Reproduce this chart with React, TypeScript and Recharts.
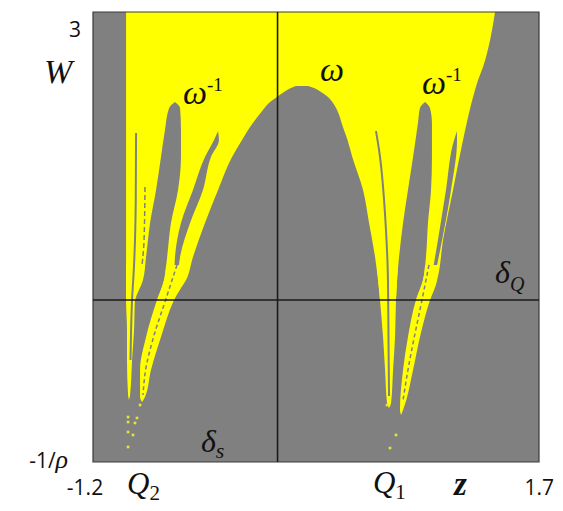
import React from 'react';
import {
  ComposedChart,
  Area,
  Line,
  Scatter,
  XAxis,
  YAxis,
  ReferenceLine,
  ReferenceDot,
  ReferenceArea,
} from 'recharts';

// axis ranges (z horizontal, W vertical; bottom of W is -1/rho)
const Z_DOMAIN: [number, number] = [-1.2, 1.7];
const W_DOMAIN: [number, number] = [-1.6875, 3];
const Z_TICK_LABELS = ['-1.2', '1.7'];
const W_TICK_LABELS = ['3', '-1/ρ'];

// rows: [W, z_left, z_right]
type Row = [number, number, number];

const plotRows: Row[] = [
  [3, -1.2, 1.7],
  [-1.6875, -1.2, 1.7],
];

const yellowMainRows: Row[] = [
  [3, -0.985, 1.414],
  [2.708, -0.985, 1.382],
  [2.427, -0.985, 1.336],
  [2.292, -0.985, 1.304],
  [2.188, -0.985, 1.284],
  [1.667, -0.985, 1.206],
  [1.146, -0.985, 1.141],
  [0.625, -0.985, 1.076],
  [0.208, -0.985, 1.037],
  [0.0, -0.985, 0.991],
];

const humpRows: Row[] = [
  [2.229, 0.12, 0.198],
  [2.208, 0.087, 0.237],
  [2.167, 0.042, 0.283],
  [2.115, -0.004, 0.328],
  [2.052, -0.056, 0.361],
  [1.979, -0.095, 0.387],
  [1.802, -0.179, 0.425],
  [1.667, -0.231, 0.455],
  [1.49, -0.296, 0.486],
  [1.146, -0.387, 0.556],
  [0.802, -0.472, 0.595],
  [0.448, -0.55, 0.634],
  [0.208, -0.595, 0.653],
  [0.0, -0.686, 0.666],
  [-0.104, -0.712, 0.673],
];

const leftFingerRows: Row[] = [
  [2.063, -0.667, -0.667],
  [2.0, -0.705, -0.634],
  [1.771, -0.732, -0.628],
  [1.49, -0.758, -0.628],
  [1.146, -0.79, -0.647],
  [0.802, -0.829, -0.693],
  [0.448, -0.855, -0.718],
  [0.208, -0.875, -0.738],
  [0.0, -0.927, -0.784],
  [-0.104, -0.94, -0.816],
];

const leftFinger2Rows: Row[] = [
  [1.76, -0.387, -0.387],
  [1.667, -0.413, -0.381],
  [1.49, -0.472, -0.433],
  [1.146, -0.55, -0.485],
  [0.802, -0.628, -0.569],
  [0.448, -0.667, -0.634],
  [0.208, -0.673, -0.647],
];

const rightFingerRows: Row[] = [
  [2.063, 0.959, 0.959],
  [2.0, 0.926, 0.991],
  [1.844, 0.913, 1.004],
  [1.49, 0.881, 1.004],
  [1.146, 0.848, 0.998],
  [0.802, 0.816, 0.978],
  [0.448, 0.79, 0.965],
  [0.208, 0.777, 0.946],
  [0.0, 0.77, 0.9],
  [-0.104, 0.764, 0.881],
];

const rightFinger2Rows: Row[] = [
  [1.76, 1.167, 1.167],
  [1.667, 1.148, 1.167],
  [1.146, 1.095, 1.128],
  [0.625, 1.043, 1.07],
  [0.208, 0.998, 1.017],
];

const stripL1Rows: Row[] = [
  [0.365, -0.985, -0.894],
  [0.0, -0.985, -0.927],
  [-0.3125, -0.979, -0.933],
  [-0.625, -0.979, -0.946],
  [-0.99, -0.972, -0.959],
  [-1.042, -0.966, -0.966],
];

const stripL2Rows: Row[] = [
  [0.365, -0.725, -0.582],
  [0.208, -0.738, -0.602],
  [0.0, -0.784, -0.673],
  [-0.385, -0.855, -0.758],
  [-0.729, -0.894, -0.823],
  [-1.01, -0.894, -0.862],
  [-1.063, -0.881, -0.881],
];

const stripR1Rows: Row[] = [
  [0.365, 0.647, 0.783],
  [0.0, 0.666, 0.77],
  [-0.385, 0.686, 0.764],
  [-0.729, 0.699, 0.751],
  [-1.073, 0.712, 0.738],
  [-1.125, 0.725, 0.725],
];

const stripR2Rows: Row[] = [
  [0.365, 0.959, 1.043],
  [0.208, 0.946, 1.037],
  [0.0, 0.9, 0.991],
  [-0.385, 0.848, 0.926],
  [-0.729, 0.816, 0.881],
  [-1.146, 0.796, 0.816],
  [-1.198, 0.803, 0.803],
];

// thin gray seams: [W, z]
type Pt = [number, number];
const seamLeftWall: Pt[] = [
  [1.74, -0.92],
  [1.042, -0.922],
  [0.365, -0.933],
  [0.0, -0.946],
  [-0.625, -0.956],
];
const seamLeftDashed: Pt[] = [
  [1.177, -0.862],
  [0.625, -0.868],
  [0.365, -0.881],
];
const seamMiddle: Pt[] = [
  [1.76, 0.64],
  [1.5625, 0.66],
  [0.729, 0.705],
  [0.208, 0.718],
  [-0.521, 0.722],
  [-1.0, 0.725],
];
const seamL2: Pt[] = [
  [0.365, -0.654],
  [0.0, -0.728],
  [-0.385, -0.806],
  [-0.729, -0.858],
  [-0.99, -0.875],
];
const seamR2: Pt[] = [
  [0.365, 0.985],
  [0.0, 0.939],
  [-0.729, 0.848],
  [-1.042, 0.816],
];

// isolated yellow points near the cusps: [z, W]
const cuspDots: Pt[] = [
  [-0.972, -1.219],
  [-0.972, -1.271],
  [-0.972, -1.375],
  [-0.972, -1.531],
  [-0.914, -1.229],
  [-0.927, -1.281],
  [-0.94, -1.406],
  [-0.894, -1.094],
  [0.712, -1.094],
  [0.77, -1.406],
  [0.731, -1.542],
];

const toBand = (rows: Row[]) => rows.map(([w, lo, hi]) => ({ w, r: [lo, hi] }));
const toPath = (pts: Pt[]) => pts.map(([w, z]) => ({ w, z }));
const toDots = (pts: Pt[]) => pts.map(([z, w]) => ({ z, w }));

const GRAY = '#808080';
const YELLOW = '#ffff00';
const SERIF = '"Liberation Serif", "Times New Roman", serif';
const SANS = '"Open Sans", "Liberation Sans", sans-serif';

type Lab = {
  z: number;
  w: number;
  anchor: 'start' | 'middle' | 'end';
  render: () => React.ReactNode;
};

const labels: Lab[] = [
  {
    z: -1.278, w: 2.74, anchor: 'end',
    render: () => <tspan fontFamily={SANS} fontSize={21}>{W_TICK_LABELS[0]}</tspan>,
  },
  {
    z: -1.519, w: 2.26, anchor: 'start',
    render: () => <tspan fontFamily={SERIF} fontStyle="italic" fontSize={34}>W</tspan>,
  },
  {
    z: -1.362, w: -1.75, anchor: 'end',
    render: () => (
      <>
        <tspan fontFamily={SANS} fontSize={21}>-1/</tspan>
        <tspan fontFamily={SERIF} fontStyle="italic" fontSize={26}>ρ</tspan>
      </>
    ),
  },
  {
    z: -1.252, w: -2.031, anchor: 'middle',
    render: () => <tspan fontFamily={SANS} fontSize={21}>{Z_TICK_LABELS[0]}</tspan>,
  },
  {
    z: 1.702, w: -2.031, anchor: 'middle',
    render: () => <tspan fontFamily={SANS} fontSize={21}>{Z_TICK_LABELS[1]}</tspan>,
  },
  {
    z: -0.979, w: -2.021, anchor: 'start',
    render: () => (
      <>
        <tspan fontFamily={SERIF} fontStyle="italic" fontSize={31}>Q</tspan>
        <tspan fontFamily={SERIF} fontSize={21} dy={6}>2</tspan>
      </>
    ),
  },
  {
    z: 0.62, w: -2.01, anchor: 'start',
    render: () => (
      <>
        <tspan fontFamily={SERIF} fontStyle="italic" fontSize={31}>Q</tspan>
        <tspan fontFamily={SERIF} fontSize={21} dy={6}>1</tspan>
      </>
    ),
  },
  {
    z: 1.148, w: -2.031, anchor: 'start',
    render: () => <tspan fontFamily={SERIF} fontStyle="italic" fontWeight="bold" fontSize={33}>z</tspan>,
  },
  {
    z: -0.615, w: 2.042, anchor: 'start',
    render: () => (
      <>
        <tspan fontFamily={SERIF} fontStyle="italic" fontSize={34}>ω</tspan>
        <tspan fontFamily={SERIF} fontSize={19} dy={-13}>-1</tspan>
      </>
    ),
  },
  {
    z: 0.276, w: 2.281, anchor: 'start',
    render: () => <tspan fontFamily={SERIF} fontStyle="italic" fontSize={34}>ω</tspan>,
  },
  {
    z: 0.939, w: 2.146, anchor: 'start',
    render: () => (
      <>
        <tspan fontFamily={SERIF} fontStyle="italic" fontSize={34}>ω</tspan>
        <tspan fontFamily={SERIF} fontSize={19} dy={-13}>-1</tspan>
      </>
    ),
  },
  {
    z: 1.414, w: 0.177, anchor: 'start',
    render: () => (
      <>
        <tspan fontFamily={SERIF} fontStyle="italic" fontSize={32}>δ</tspan>
        <tspan fontFamily={SERIF} fontStyle="italic" fontSize={20} dy={8}>Q</tspan>
      </>
    ),
  },
  {
    z: -0.498, w: -1.583, anchor: 'start',
    render: () => (
      <>
        <tspan fontFamily={SERIF} fontStyle="italic" fontSize={32}>δ</tspan>
        <tspan fontFamily={SERIF} fontStyle="italic" fontSize={22} dy={6}>s</tspan>
      </>
    ),
  },
];

const grayBands = [humpRows, leftFingerRows, leftFinger2Rows, rightFingerRows, rightFinger2Rows];
const yellowStrips = [stripL1Rows, stripL2Rows, stripR1Rows, stripR2Rows];

export default function App() {
  return (
    <ComposedChart
      layout="vertical"
      width={555}
      height={503}
      margin={{ top: 4, right: 24, bottom: 49, left: 85 }}
      style={{ background: '#fff' }}
    >
      <XAxis type="number" dataKey="z" domain={Z_DOMAIN} hide allowDataOverflow />
      <YAxis type="number" dataKey="w" domain={W_DOMAIN} hide allowDataOverflow reversed />

      <Area
        data={toBand(plotRows)}
        dataKey="r"
        type="linear"
        fill={GRAY}
        fillOpacity={1}
        stroke="none"
        isAnimationActive={false}
      />
      <Area
        data={toBand(yellowMainRows)}
        dataKey="r"
        type="monotone"
        fill={YELLOW}
        fillOpacity={1}
        stroke="none"
        isAnimationActive={false}
      />
      {grayBands.map((rows, i) => (
        <Area
          key={'g' + i}
          data={toBand(rows)}
          dataKey="r"
          type="monotone"
          fill={GRAY}
          fillOpacity={1}
          stroke="none"
          isAnimationActive={false}
        />
      ))}
      {yellowStrips.map((rows, i) => (
        <Area
          key={'y' + i}
          data={toBand(rows)}
          dataKey="r"
          type="monotone"
          fill={YELLOW}
          fillOpacity={1}
          stroke="none"
          isAnimationActive={false}
        />
      ))}
      <Line data={toPath(seamLeftWall)} dataKey="z" type="monotone" stroke={GRAY} strokeWidth={2} dot={false} isAnimationActive={false} />
      <Line data={toPath(seamLeftDashed)} dataKey="z" type="monotone" stroke={GRAY} strokeWidth={1.5} strokeDasharray="5 3" dot={false} isAnimationActive={false} />
      <Line data={toPath(seamMiddle)} dataKey="z" type="monotone" stroke={GRAY} strokeWidth={2} dot={false} isAnimationActive={false} />
      <Line data={toPath(seamL2)} dataKey="z" type="monotone" stroke={GRAY} strokeWidth={1.5} strokeDasharray="4 3" dot={false} isAnimationActive={false} />
      <Line data={toPath(seamR2)} dataKey="z" type="monotone" stroke={GRAY} strokeWidth={1.5} strokeDasharray="4 3" dot={false} isAnimationActive={false} />
      <Scatter
        data={toDots(cuspDots)}
        dataKey="w"
        isAnimationActive={false}
        shape={(p: any) => <rect x={p.cx - 1.3} y={p.cy - 1.3} width={2.6} height={2.6} fill="#e6e63a" />}
      />

      <ReferenceLine x={0} stroke="#1a1a1a" strokeWidth={1.6} />
      <ReferenceLine y={0} stroke="#1a1a1a" strokeWidth={1.6} />
      <ReferenceArea
        x1={Z_DOMAIN[0]}
        x2={Z_DOMAIN[1]}
        y1={W_DOMAIN[0]}
        y2={W_DOMAIN[1]}
        fill="none"
        fillOpacity={0}
        stroke="#3a3a3a"
        strokeWidth={1.2}
      />

      {labels.map((l, i) => (
        <ReferenceDot
          key={'l' + i}
          x={l.z}
          y={l.w}
          ifOverflow="visible"
          shape={(p: any) => (
            <text x={p.cx} y={p.cy} textAnchor={l.anchor} fill="#111">
              {l.render()}
            </text>
          )}
        />
      ))}
    </ComposedChart>
  );
}
